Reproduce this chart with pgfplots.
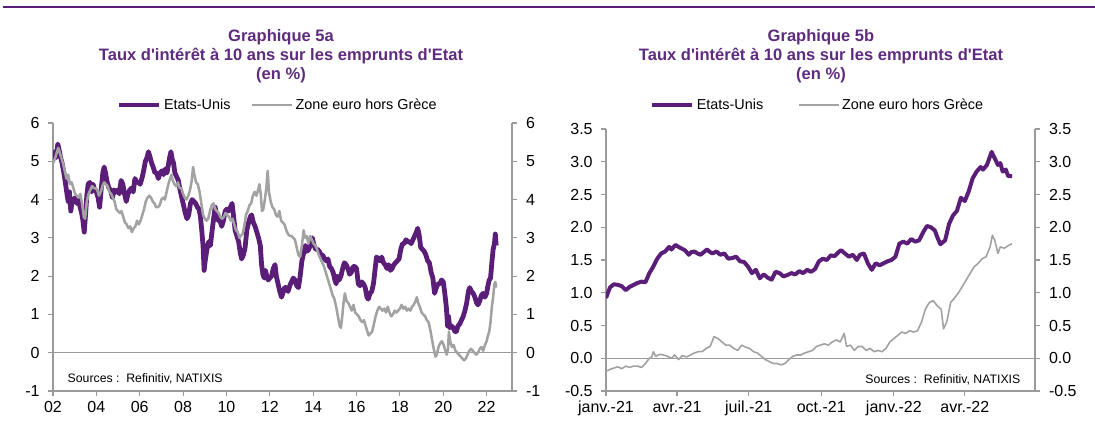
\documentclass[border=0pt]{standalone}
\usepackage{pgfplots}
\pgfplotsset{compat=1.18}
\usepackage{fontspec}
\setmainfont{Liberation Sans}
\definecolor{uspurple}{HTML}{5A1E78}
\definecolor{titlepurple}{HTML}{5E2B7E}
\definecolor{axgray}{HTML}{9A9A9A}
\definecolor{eugray}{HTML}{A2A2A2}

% US 10y, left chart (year, %)
\pgfplotstableread{
x y
2002.00 5.05
2002.08 5.25
2002.15 5.10
2002.22 5.45
2002.28 5.30
2002.35 5.10
2002.42 4.95
2002.50 4.70
2002.57 4.45
2002.63 4.20
2002.70 3.95
2002.76 4.20
2002.82 3.70
2002.88 3.95
2002.95 4.00
2003.02 4.05
2003.10 3.90
2003.18 4.00
2003.25 3.80
2003.32 3.65
2003.38 3.45
2003.44 3.15
2003.50 3.60
2003.56 4.10
2003.62 4.40
2003.70 4.45
2003.78 4.20
2003.85 4.40
2003.92 4.25
2004.00 4.20
2004.08 4.05
2004.15 3.80
2004.22 4.25
2004.30 4.70
2004.36 4.85
2004.42 4.70
2004.50 4.45
2004.58 4.30
2004.66 4.25
2004.74 4.05
2004.82 4.25
2004.90 4.20
2004.98 4.25
2005.06 4.15
2005.14 4.50
2005.22 4.40
2005.30 4.15
2005.38 3.95
2005.46 4.15
2005.54 4.25
2005.62 4.30
2005.70 4.20
2005.78 4.55
2005.86 4.45
2005.94 4.45
2006.02 4.40
2006.10 4.55
2006.18 4.75
2006.26 5.00
2006.34 5.10
2006.40 5.25
2006.48 5.10
2006.55 4.95
2006.62 4.85
2006.70 4.70
2006.78 4.70
2006.86 4.55
2006.94 4.70
2007.02 4.75
2007.10 4.65
2007.18 4.80
2007.26 4.70
2007.32 4.90
2007.38 5.10
2007.44 5.25
2007.50 5.05
2007.56 4.95
2007.62 4.70
2007.70 4.60
2007.78 4.50
2007.86 4.25
2007.94 4.05
2008.02 3.85
2008.10 3.65
2008.18 3.50
2008.26 3.60
2008.34 3.90
2008.42 4.00
2008.50 3.95
2008.58 3.90
2008.66 3.80
2008.74 3.75
2008.80 3.55
2008.86 3.20
2008.92 2.80
2008.97 2.15
2009.02 2.40
2009.10 2.70
2009.18 2.90
2009.26 2.80
2009.34 3.20
2009.42 3.55
2009.48 3.80
2009.54 3.60
2009.62 3.45
2009.70 3.45
2009.78 3.30
2009.86 3.45
2009.94 3.70
2010.02 3.75
2010.10 3.70
2010.18 3.80
2010.26 3.90
2010.32 3.60
2010.40 3.20
2010.48 3.05
2010.56 2.90
2010.64 2.60
2010.70 2.45
2010.78 2.55
2010.86 2.75
2010.94 3.20
2011.02 3.40
2011.10 3.55
2011.16 3.60
2011.24 3.40
2011.32 3.30
2011.40 3.15
2011.48 3.00
2011.56 2.80
2011.62 2.30
2011.68 2.05
2011.74 1.95
2011.80 2.15
2011.86 2.00
2011.92 1.90
2012.00 1.95
2012.08 2.00
2012.16 2.20
2012.24 2.30
2012.30 2.00
2012.38 1.80
2012.46 1.60
2012.54 1.45
2012.60 1.55
2012.68 1.70
2012.76 1.70
2012.84 1.60
2012.92 1.75
2013.00 1.85
2013.08 1.95
2013.16 1.90
2013.24 1.75
2013.32 1.70
2013.40 2.00
2013.48 2.40
2013.56 2.60
2013.64 2.80
2013.72 2.65
2013.80 2.70
2013.88 2.85
2013.96 3.00
2014.04 2.80
2014.12 2.70
2014.20 2.70
2014.28 2.65
2014.36 2.55
2014.44 2.55
2014.52 2.45
2014.60 2.40
2014.68 2.45
2014.76 2.25
2014.84 2.20
2014.92 2.10
2015.00 1.90
2015.06 1.80
2015.12 2.00
2015.20 1.90
2015.28 2.00
2015.36 2.20
2015.44 2.35
2015.52 2.30
2015.60 2.20
2015.68 2.05
2015.76 2.10
2015.84 2.25
2015.92 2.25
2016.00 2.20
2016.08 1.80
2016.16 1.75
2016.24 1.85
2016.32 1.80
2016.40 1.70
2016.48 1.45
2016.54 1.40
2016.62 1.55
2016.70 1.60
2016.78 1.80
2016.86 2.20
2016.92 2.50
2017.00 2.45
2017.08 2.40
2017.16 2.50
2017.24 2.35
2017.32 2.30
2017.40 2.20
2017.48 2.30
2017.56 2.15
2017.64 2.20
2017.72 2.30
2017.80 2.35
2017.88 2.40
2017.96 2.45
2018.04 2.70
2018.12 2.85
2018.20 2.85
2018.28 2.95
2018.36 2.90
2018.44 2.90
2018.52 2.85
2018.60 2.95
2018.68 3.05
2018.76 3.15
2018.82 3.25
2018.88 3.10
2018.96 2.75
2019.04 2.70
2019.12 2.65
2019.20 2.55
2019.28 2.40
2019.36 2.35
2019.44 2.10
2019.52 1.95
2019.60 1.55
2019.68 1.70
2019.76 1.80
2019.84 1.80
2019.92 1.90
2020.00 1.85
2020.06 1.60
2020.14 1.20
2020.20 0.70
2020.24 0.95
2020.30 0.65
2020.38 0.70
2020.46 0.65
2020.54 0.55
2020.60 0.55
2020.68 0.70
2020.76 0.75
2020.84 0.85
2020.92 0.95
2021.00 1.10
2021.08 1.30
2021.16 1.60
2021.22 1.70
2021.30 1.60
2021.38 1.55
2021.46 1.45
2021.54 1.30
2021.60 1.25
2021.68 1.35
2021.76 1.50
2021.84 1.55
2021.92 1.45
2022.00 1.55
2022.06 1.75
2022.12 1.90
2022.18 1.95
2022.24 2.35
2022.30 2.70
2022.36 2.85
2022.40 3.10
2022.44 2.80
}\usleft

% Euro area ex Greece, left chart
\pgfplotstableread{
x y
2002.00 4.95
2002.08 5.05
2002.16 5.20
2002.24 5.35
2002.30 5.25
2002.38 5.10
2002.46 4.95
2002.54 4.75
2002.62 4.55
2002.70 4.65
2002.78 4.40
2002.86 4.45
2002.94 4.30
2003.02 4.15
2003.10 4.10
2003.18 4.05
2003.26 4.15
2003.34 3.90
2003.42 3.55
2003.48 3.50
2003.56 3.95
2003.64 4.15
2003.72 4.25
2003.80 4.35
2003.88 4.30
2003.96 4.30
2004.04 4.25
2004.12 4.10
2004.20 4.20
2004.28 4.35
2004.36 4.45
2004.44 4.40
2004.52 4.35
2004.60 4.20
2004.68 4.15
2004.76 4.05
2004.84 3.95
2004.92 3.75
2005.00 3.70
2005.08 3.65
2005.16 3.70
2005.24 3.55
2005.32 3.40
2005.40 3.35
2005.48 3.25
2005.56 3.30
2005.64 3.15
2005.72 3.25
2005.80 3.30
2005.88 3.45
2005.96 3.35
2006.04 3.45
2006.12 3.60
2006.20 3.75
2006.28 3.95
2006.36 4.05
2006.44 4.10
2006.52 4.05
2006.60 3.95
2006.68 3.90
2006.76 3.80
2006.84 3.80
2006.92 3.85
2007.00 4.00
2007.08 4.05
2007.16 4.00
2007.24 4.20
2007.32 4.40
2007.40 4.55
2007.46 4.65
2007.52 4.50
2007.60 4.40
2007.68 4.35
2007.76 4.45
2007.84 4.30
2007.92 4.30
2008.00 4.15
2008.08 4.05
2008.16 4.00
2008.24 4.10
2008.32 4.25
2008.40 4.50
2008.46 4.85
2008.52 4.65
2008.60 4.45
2008.68 4.40
2008.76 4.20
2008.84 3.90
2008.92 3.60
2009.00 3.50
2009.08 3.45
2009.16 3.50
2009.24 3.70
2009.32 3.85
2009.40 3.90
2009.48 3.75
2009.56 3.70
2009.64 3.65
2009.72 3.55
2009.80 3.50
2009.88 3.55
2009.96 3.65
2010.04 3.60
2010.12 3.55
2010.20 3.45
2010.28 3.50
2010.36 3.35
2010.44 3.20
2010.52 3.15
2010.60 3.00
2010.66 3.05
2010.74 3.10
2010.82 3.30
2010.90 3.60
2010.98 3.70
2011.06 3.85
2011.14 3.90
2011.22 4.10
2011.30 4.20
2011.38 4.10
2011.46 4.25
2011.52 4.40
2011.58 4.15
2011.64 3.70
2011.70 3.75
2011.76 3.95
2011.84 4.30
2011.90 4.75
2011.96 4.20
2012.04 3.95
2012.12 3.80
2012.20 3.75
2012.28 3.60
2012.36 3.55
2012.44 3.70
2012.52 3.45
2012.60 3.40
2012.68 3.35
2012.76 3.20
2012.84 3.10
2012.92 3.05
2013.00 3.05
2013.08 3.00
2013.16 2.95
2013.24 2.75
2013.32 2.55
2013.40 2.50
2013.48 2.80
2013.56 3.20
2013.62 3.00
2013.70 3.05
2013.78 2.85
2013.86 3.05
2013.94 2.95
2014.02 2.85
2014.10 2.80
2014.18 2.70
2014.26 2.55
2014.34 2.45
2014.42 2.35
2014.50 2.25
2014.58 2.10
2014.66 1.95
2014.74 1.80
2014.82 1.65
2014.90 1.50
2014.98 1.40
2015.06 1.20
2015.14 0.95
2015.22 0.70
2015.28 0.65
2015.34 0.95
2015.40 1.30
2015.46 1.55
2015.54 1.35
2015.62 1.30
2015.70 1.20
2015.78 1.10
2015.86 1.25
2015.94 1.05
2016.02 1.00
2016.10 0.95
2016.18 0.85
2016.26 0.80
2016.34 0.85
2016.42 0.70
2016.50 0.55
2016.56 0.45
2016.64 0.50
2016.72 0.55
2016.80 0.75
2016.88 0.95
2016.96 1.10
2017.04 1.20
2017.12 1.15
2017.20 1.10
2017.28 1.15
2017.36 1.05
2017.44 1.20
2017.52 1.05
2017.60 0.95
2017.68 1.00
2017.76 1.10
2017.84 1.05
2017.92 1.10
2018.00 1.15
2018.08 1.25
2018.16 1.15
2018.24 1.20
2018.32 1.10
2018.40 1.15
2018.48 1.10
2018.56 1.20
2018.64 1.25
2018.72 1.35
2018.78 1.45
2018.84 1.30
2018.92 1.20
2019.00 1.05
2019.08 1.00
2019.16 0.95
2019.24 0.85
2019.32 0.80
2019.40 0.60
2019.48 0.35
2019.56 0.10
2019.64 -0.10
2019.70 -0.05
2019.78 0.15
2019.86 0.25
2019.94 0.30
2020.02 0.20
2020.10 0.05
2020.16 -0.05
2020.22 0.10
2020.26 0.55
2020.32 0.30
2020.40 0.15
2020.48 0.20
2020.56 0.05
2020.64 0.00
2020.72 -0.05
2020.80 -0.10
2020.88 -0.15
2020.96 -0.20
2021.04 -0.15
2021.12 -0.05
2021.20 0.05
2021.28 0.10
2021.36 0.05
2021.44 0.00
2021.52 -0.05
2021.60 0.00
2021.68 0.10
2021.76 0.15
2021.84 0.05
2021.92 0.20
2022.00 0.30
2022.06 0.45
2022.12 0.55
2022.18 0.80
2022.24 1.20
2022.30 1.45
2022.36 1.80
2022.40 1.85
2022.44 1.70
}\euleft

% right chart: days since 1 Jan 2021
\pgfplotstableread{
x y
0 0.92
5 1.08
10 1.13
15 1.12
20 1.10
25 1.04
30 1.09
35 1.12
40 1.15
45 1.17
50 1.16
55 1.30
60 1.40
65 1.52
70 1.60
75 1.63
80 1.70
83 1.66
88 1.73
92 1.70
95 1.68
100 1.65
105 1.58
108 1.62
112 1.63
116 1.60
120 1.58
124 1.62
128 1.66
132 1.62
135 1.60
140 1.63
145 1.58
150 1.60
155 1.52
160 1.53
165 1.55
170 1.48
175 1.47
180 1.40
185 1.30
190 1.35
195 1.22
200 1.28
205 1.23
210 1.20
215 1.32
220 1.30
225 1.25
230 1.27
235 1.30
240 1.28
245 1.33
250 1.30
255 1.35
260 1.32
265 1.36
270 1.48
275 1.52
280 1.50
285 1.57
290 1.56
295 1.62
298 1.65
303 1.60
308 1.55
313 1.58
318 1.50
322 1.58
327 1.60
332 1.45
337 1.35
342 1.45
347 1.42
352 1.45
357 1.48
362 1.50
367 1.55
372 1.75
377 1.78
382 1.75
387 1.82
392 1.78
397 1.80
402 1.92
407 2.02
412 2.00
417 1.95
420 1.85
424 1.74
430 1.80
435 2.05
440 2.18
445 2.25
450 2.45
455 2.40
460 2.55
465 2.75
470 2.85
475 2.92
478 2.88
483 2.95
489 3.15
493 3.05
497 2.95
500 2.98
503 2.85
507 2.88
510 2.78
515 2.78
}\usright

\pgfplotstableread{
x y
0 -0.20
5 -0.17
10 -0.15
15 -0.13
20 -0.16
25 -0.12
30 -0.14
35 -0.12
40 -0.12
45 -0.14
50 -0.08
55 0.00
58 0.02
60 0.10
63 0.03
68 0.06
73 0.05
78 0.03
83 0.00
87 0.05
92 -0.02
97 0.04
102 0.02
107 0.05
112 0.08
117 0.10
122 0.10
127 0.15
132 0.18
137 0.33
142 0.30
147 0.25
152 0.20
157 0.20
162 0.15
167 0.12
172 0.20
177 0.17
182 0.15
187 0.10
192 0.08
197 0.03
202 -0.02
207 -0.05
212 -0.08
217 -0.08
222 -0.10
227 -0.08
232 -0.02
237 0.03
242 0.05
247 0.05
252 0.08
257 0.10
262 0.12
267 0.18
272 0.20
277 0.22
282 0.20
287 0.25
292 0.28
297 0.25
302 0.38
305 0.18
310 0.20
315 0.12
320 0.18
325 0.18
330 0.12
335 0.15
340 0.10
345 0.12
350 0.10
355 0.15
360 0.25
365 0.30
370 0.35
375 0.40
380 0.38
385 0.42
390 0.40
395 0.42
400 0.55
405 0.75
410 0.85
415 0.88
420 0.80
425 0.75
428 0.45
432 0.55
437 0.85
442 0.92
447 1.00
452 1.10
457 1.20
462 1.30
467 1.40
472 1.45
477 1.52
482 1.55
487 1.70
490 1.88
493 1.80
497 1.60
500 1.70
505 1.68
510 1.72
515 1.75
}\euright

\pgfplotsset{
  base/.style={
    scale only axis,
    anchor=south west,
    axis line style={axgray, line width=1pt},
    tick style={axgray, line width=0.8pt},
    major tick length=4pt,
    tick align=outside,
    ticklabel style={font=\fontsize{12}{14}\selectfont, text=black},
    /pgf/number format/assume math mode=true,
  },
  uslin/.style={uspurple, line width=3.6pt, line join=round},
  eulin/.style={eugray, line width=1.9pt, line join=round},
  leg/.style={legend columns=2,
    legend image code/.code={\draw[##1] (0pt,0pt) -- (30pt,0pt);}},
}

\begin{document}
\begin{tikzpicture}
\path[use as bounding box] (0,0) rectangle (821.25pt,328.5pt);
\draw[uspurple, line width=1.1pt] (2pt,323.25pt) -- (821.25pt,323.25pt);

% ---------- Graphique 5a ----------
\node[font=\bfseries\fontsize{12.4}{14.2}\selectfont, text=titlepurple, align=center]
  at (210.75pt,286.5pt) {Graphique 5a\\Taux d\textquotesingle intérêt à 10 ans sur les emprunts d\textquotesingle Etat\\(en \%)};

\begin{axis}[base, leg,
  at={(39.75pt,35.25pt)}, width=344.25pt, height=201pt,
  axis x line*=bottom, axis y line*=left,
  xmin=2002, xmax=2023.17, ymin=-1, ymax=6,
  xtick={2002,2004,...,2022},
  xticklabels={02,04,06,08,10,12,14,16,18,20,22},
  ytick={-1,0,...,6},
  yticklabel style={xshift=-2.5pt},
  legend style={at={(0.49,1)}, anchor=center, yshift=13.5pt, draw=none, fill=none,
    font=\fontsize{10.8}{12}\selectfont,
    /tikz/every even column/.append style={column sep=13pt}},
]
\addplot[axgray, line width=1pt, forget plot] coordinates {(2002,0) (2023.17,0)};
\addplot[uslin] table {\usleft};
\addlegendentry{Etats-Unis}
\addplot[eulin] table {\euleft};
\addlegendentry{Zone euro hors Grèce}
\end{axis}
\begin{axis}[base,
  at={(39.75pt,35.25pt)}, width=344.25pt, height=201pt,
  axis y line*=right, axis x line=none,
  xmin=2002, xmax=2023.17, ymin=-1, ymax=6,
  ytick={-1,0,...,6},
  yticklabel style={xshift=3pt},
]
\addplot[draw=none] coordinates {(2002,0)};
\end{axis}
\node[anchor=west, font=\fontsize{9.2}{10}\selectfont] at (47.25pt,44.25pt) {Sources :\ \ Refinitiv, NATIXIS};

% ---------- Graphique 5b ----------
\node[font=\bfseries\fontsize{12.4}{14.2}\selectfont, text=titlepurple, align=center]
  at (615.75pt,286.5pt) {Graphique 5b\\Taux d\textquotesingle intérêt à 10 ans sur les emprunts d\textquotesingle Etat\\(en \%)};

\begin{axis}[base, leg,
  at={(454.5pt,35.25pt)}, width=321.75pt, height=196.5pt,
  axis x line*=bottom, axis y line*=left,
  xmin=0, xmax=544, ymin=-0.5, ymax=3.5,
  xtick={0,90,181,273,365,455},
  xticklabels={janv.-21,avr.-21,juil.-21,oct.-21,janv.-22,avr.-22},
  ytick={-0.5,0,...,3.5},
  yticklabel style={xshift=-2.5pt, /pgf/number format/.cd, fixed, fixed zerofill, precision=1},
  legend style={at={(0.494,1)}, anchor=center, yshift=18pt, draw=none, fill=none,
    font=\fontsize{10.8}{12}\selectfont,
    /tikz/every even column/.append style={column sep=24pt}},
]
\addplot[axgray, line width=1pt, forget plot] coordinates {(0,0) (544,0)};
\addplot[uslin, line width=3pt] table {\usright};
\addlegendentry{Etats-Unis}
\addplot[eulin, line width=1.2pt] table {\euright};
\addlegendentry{Zone euro hors Grèce}
\end{axis}
\begin{axis}[base,
  at={(454.5pt,35.25pt)}, width=321.75pt, height=196.5pt,
  axis y line*=right, axis x line=none,
  xmin=0, xmax=544, ymin=-0.5, ymax=3.5,
  ytick={-0.5,0,...,3.5},
  yticklabel style={xshift=3pt, /pgf/number format/.cd, fixed, fixed zerofill, precision=1},
]
\addplot[draw=none] coordinates {(0,0)};
\end{axis}
\node[anchor=east, font=\fontsize{9.2}{10}\selectfont] at (768.75pt,43.5pt) {Sources :\ \ Refinitiv, NATIXIS};
\end{tikzpicture}
\end{document}
